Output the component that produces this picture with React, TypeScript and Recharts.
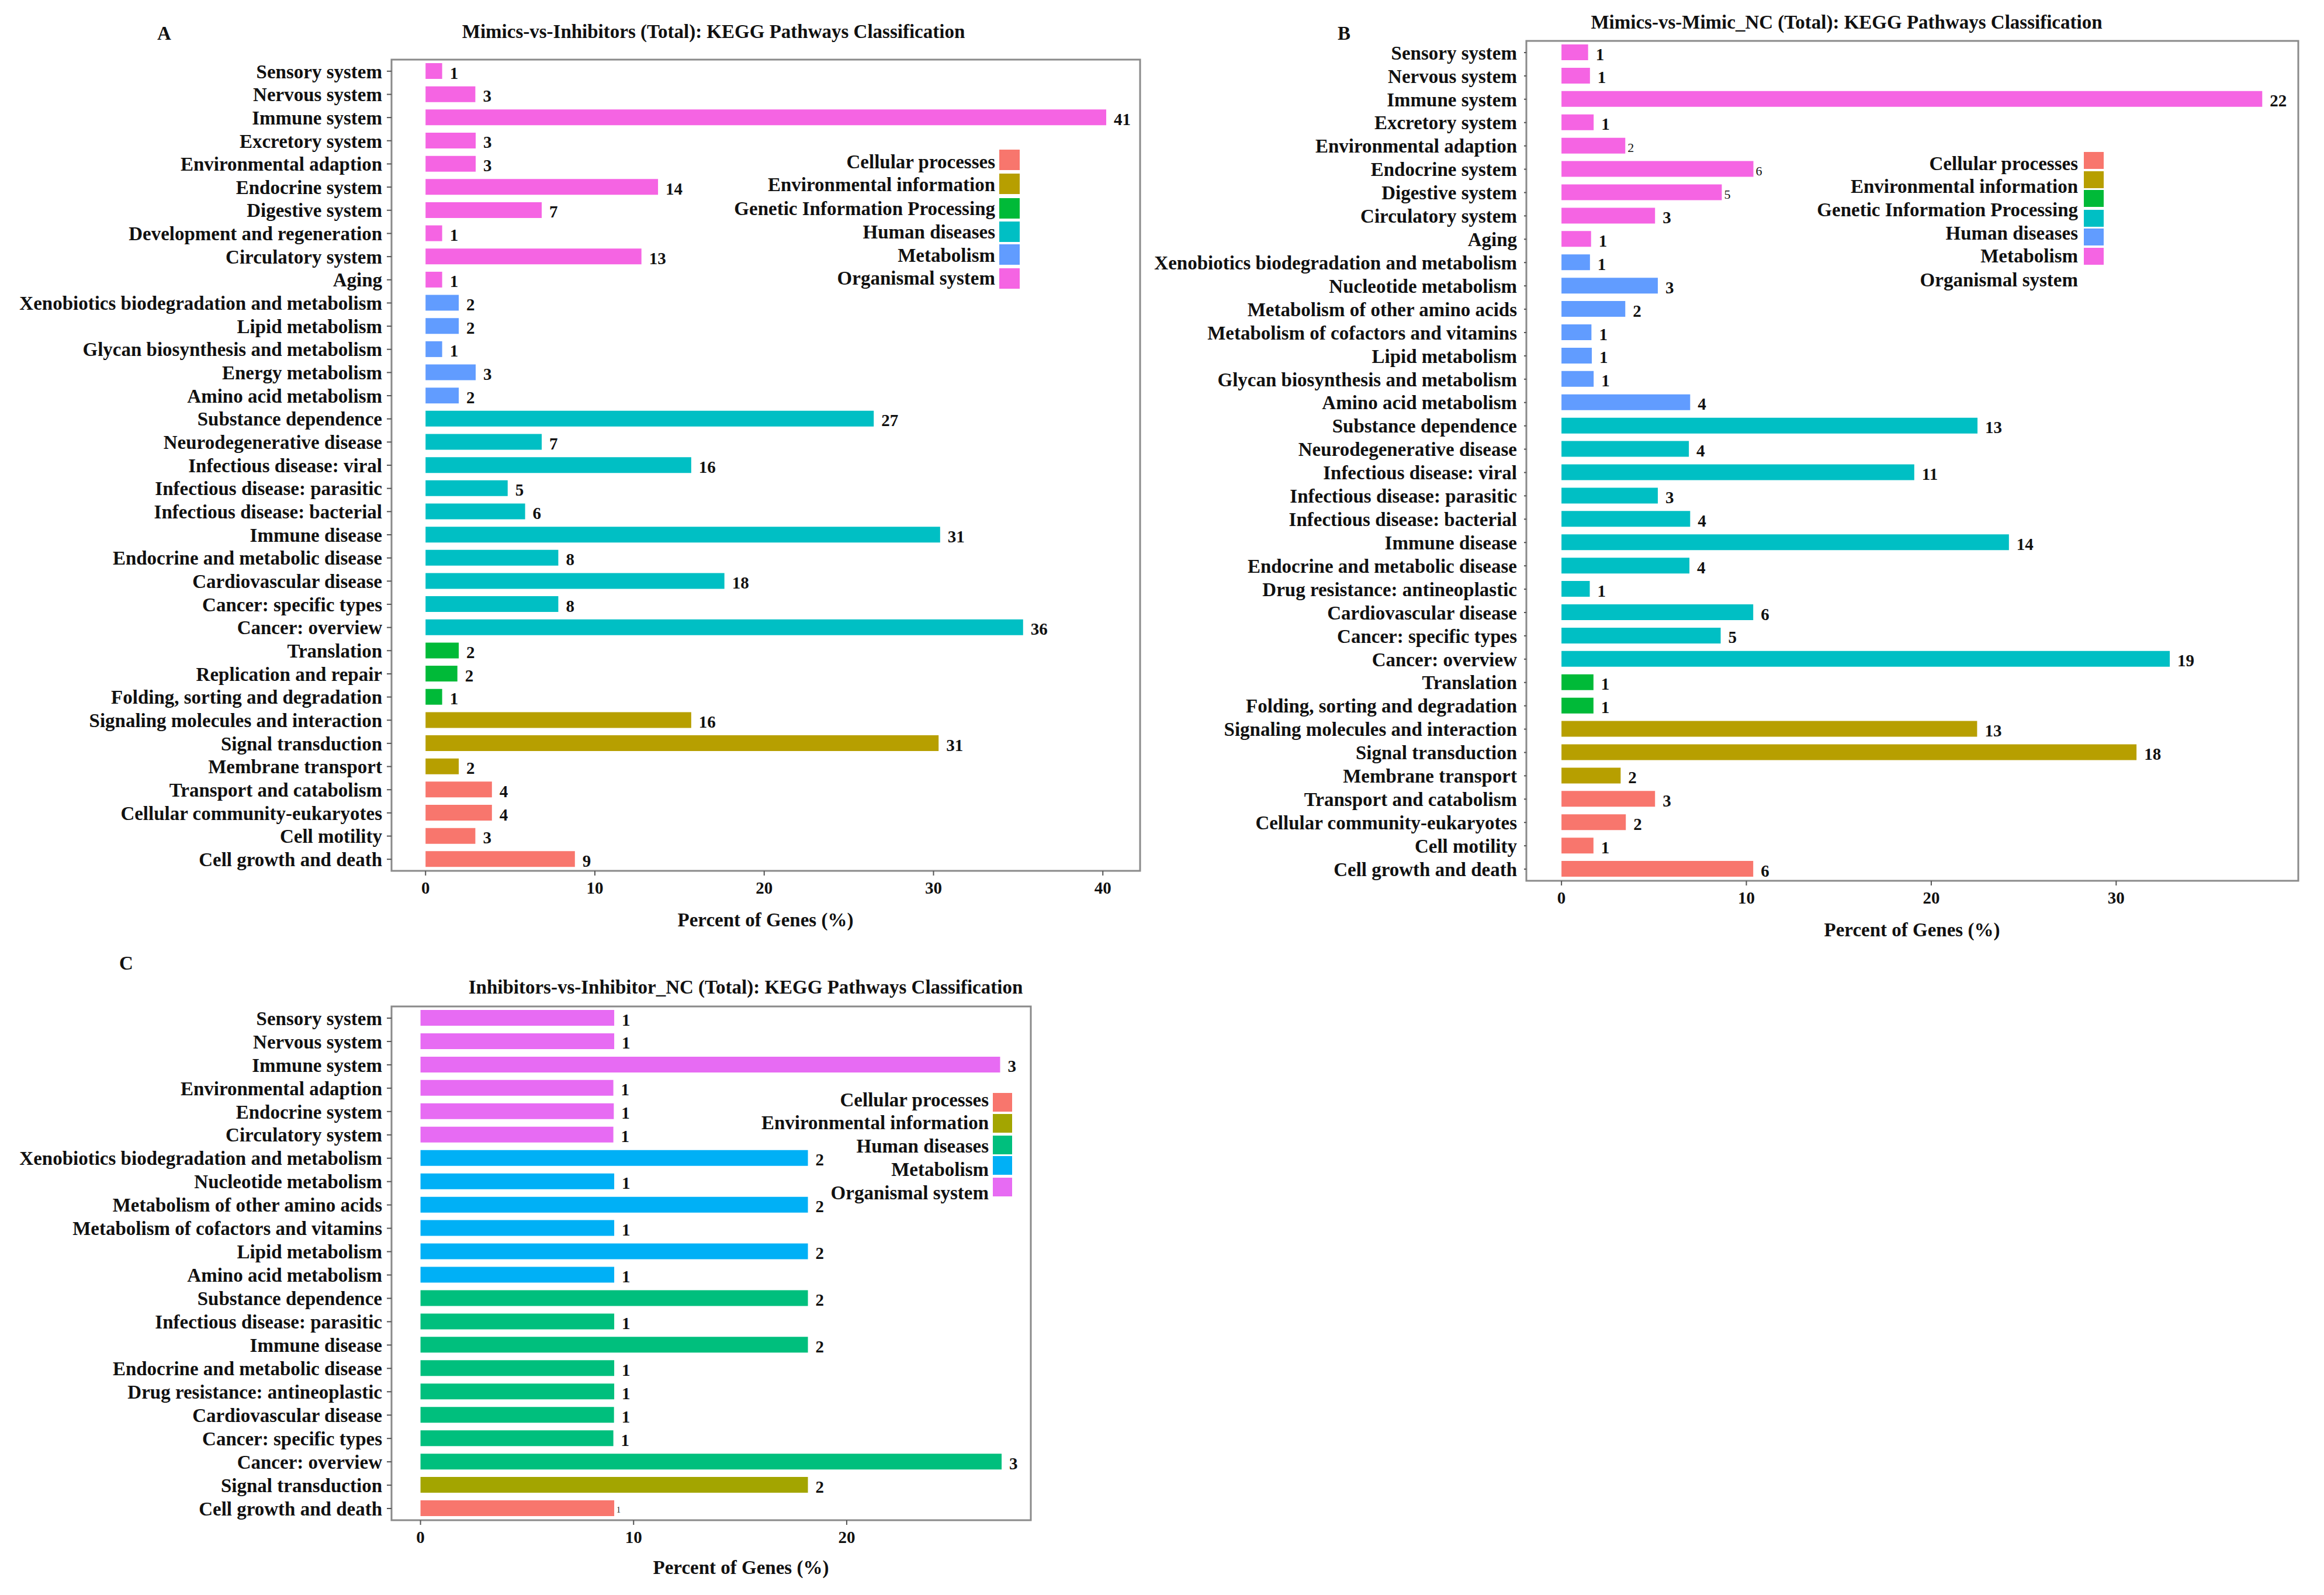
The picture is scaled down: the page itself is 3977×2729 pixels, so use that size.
import { BarChart, Bar, XAxis, YAxis, Cell, LabelList, ReferenceArea } from 'recharts';

const FONT = '"Liberation Serif", "Times New Roman", serif';

// group codes: CP Cellular processes, EI Environmental information, GIP Genetic Information Processing,
// HD Human diseases, MET Metabolism, OS Organismal system
const colors6: Record<string, string> = {
  CP: '#F8766D',
  EI: '#B79F00',
  GIP: '#00BA38',
  HD: '#00BFC4',
  MET: '#619CFF',
  OS: '#F564E3',
};
const colors5: Record<string, string> = {
  CP: '#F8766D',
  EI: '#A3A500',
  HD: '#00BF7D',
  MET: '#00B0F6',
  OS: '#E76BF3',
};

// ---- Panel A: Mimics-vs-Inhibitors ----
const aCategories = [
  'Sensory system', 'Nervous system', 'Immune system', 'Excretory system', 'Environmental adaption',
  'Endocrine system', 'Digestive system', 'Development and regeneration', 'Circulatory system', 'Aging',
  'Xenobiotics biodegradation and metabolism', 'Lipid metabolism', 'Glycan biosynthesis and metabolism',
  'Energy metabolism', 'Amino acid metabolism', 'Substance dependence', 'Neurodegenerative disease',
  'Infectious disease: viral', 'Infectious disease: parasitic', 'Infectious disease: bacterial',
  'Immune disease', 'Endocrine and metabolic disease', 'Cardiovascular disease', 'Cancer: specific types',
  'Cancer: overview', 'Translation', 'Replication and repair', 'Folding, sorting and degradation',
  'Signaling molecules and interaction', 'Signal transduction', 'Membrane transport',
  'Transport and catabolism', 'Cellular community-eukaryotes', 'Cell motility', 'Cell growth and death',
];
const aCounts = [1, 3, 41, 3, 3, 14, 7, 1, 13, 1, 2, 2, 1, 3, 2, 27, 7, 16, 5, 6, 31, 8, 18, 8, 36, 2, 2, 1, 16, 31, 2, 4, 4, 3, 9];
const aPercents = [
  0.98, 2.94, 40.2, 2.96, 2.96, 13.73, 6.86, 0.98, 12.75, 0.98,
  1.96, 1.96, 0.98, 2.96, 1.96, 26.47, 6.86, 15.69, 4.85, 5.88,
  30.39, 7.84, 17.65, 7.84, 35.29, 1.96, 1.88, 0.98, 15.69, 30.3,
  1.96, 3.92, 3.92, 2.94, 8.82,
];
const aGroups = [
  'OS', 'OS', 'OS', 'OS', 'OS', 'OS', 'OS', 'OS', 'OS', 'OS',
  'MET', 'MET', 'MET', 'MET', 'MET',
  'HD', 'HD', 'HD', 'HD', 'HD', 'HD', 'HD', 'HD', 'HD', 'HD',
  'GIP', 'GIP', 'GIP',
  'EI', 'EI', 'EI',
  'CP', 'CP', 'CP', 'CP',
];

// ---- Panel B: Mimics-vs-Mimic_NC ----
const bCategories = [
  'Sensory system', 'Nervous system', 'Immune system', 'Excretory system', 'Environmental adaption',
  'Endocrine system', 'Digestive system', 'Circulatory system', 'Aging',
  'Xenobiotics biodegradation and metabolism', 'Nucleotide metabolism', 'Metabolism of other amino acids',
  'Metabolism of cofactors and vitamins', 'Lipid metabolism', 'Glycan biosynthesis and metabolism',
  'Amino acid metabolism', 'Substance dependence', 'Neurodegenerative disease', 'Infectious disease: viral',
  'Infectious disease: parasitic', 'Infectious disease: bacterial', 'Immune disease',
  'Endocrine and metabolic disease', 'Drug resistance: antineoplastic', 'Cardiovascular disease',
  'Cancer: specific types', 'Cancer: overview', 'Translation', 'Folding, sorting and degradation',
  'Signaling molecules and interaction', 'Signal transduction', 'Membrane transport',
  'Transport and catabolism', 'Cellular community-eukaryotes', 'Cell motility', 'Cell growth and death',
];
const bCounts = [1, 1, 22, 1, 2, 6, 5, 3, 1, 1, 3, 2, 1, 1, 1, 4, 13, 4, 11, 3, 4, 14, 4, 1, 6, 5, 19, 1, 1, 13, 18, 2, 3, 2, 1, 6];
const bPercents = [
  1.44, 1.54, 37.9, 1.74, 3.45, 10.38, 8.67, 5.06, 1.6,
  1.54, 5.21, 3.45, 1.62, 1.64, 1.74, 6.96,
  22.5, 6.89, 19.08, 5.21, 6.96, 24.2, 6.92, 1.53, 10.37, 8.61, 32.9,
  1.73, 1.73,
  22.48, 31.1, 3.2,
  5.06, 3.48, 1.73, 10.37,
];
const bGroups = [
  'OS', 'OS', 'OS', 'OS', 'OS', 'OS', 'OS', 'OS', 'OS',
  'MET', 'MET', 'MET', 'MET', 'MET', 'MET', 'MET',
  'HD', 'HD', 'HD', 'HD', 'HD', 'HD', 'HD', 'HD', 'HD', 'HD', 'HD',
  'GIP', 'GIP',
  'EI', 'EI', 'EI',
  'CP', 'CP', 'CP', 'CP',
];

// ---- Panel C: Inhibitors-vs-Inhibitor_NC ----
const cCategories = [
  'Sensory system', 'Nervous system', 'Immune system', 'Environmental adaption', 'Endocrine system',
  'Circulatory system', 'Xenobiotics biodegradation and metabolism', 'Nucleotide metabolism',
  'Metabolism of other amino acids', 'Metabolism of cofactors and vitamins', 'Lipid metabolism',
  'Amino acid metabolism', 'Substance dependence', 'Infectious disease: parasitic', 'Immune disease',
  'Endocrine and metabolic disease', 'Drug resistance: antineoplastic', 'Cardiovascular disease',
  'Cancer: specific types', 'Cancer: overview', 'Signal transduction', 'Cell growth and death',
];
const cCounts = [1, 1, 3, 1, 1, 1, 2, 1, 2, 1, 2, 1, 2, 1, 2, 1, 1, 1, 1, 3, 2, 1];
const cPercents = [
  9.09, 9.09, 27.2, 9.05, 9.07, 9.05, 18.18, 9.09, 18.18, 9.09, 18.18,
  9.09, 18.18, 9.09, 18.18, 9.09, 9.09, 9.08, 9.05, 27.27, 18.18, 9.09,
];
const cGroups = [
  'OS', 'OS', 'OS', 'OS', 'OS', 'OS',
  'MET', 'MET', 'MET', 'MET', 'MET', 'MET',
  'HD', 'HD', 'HD', 'HD', 'HD', 'HD', 'HD', 'HD',
  'EI', 'CP',
];

const legend6 = ['Cellular processes', 'Environmental information', 'Genetic Information Processing', 'Human diseases', 'Metabolism', 'Organismal system'];
const legend6Keys = ['CP', 'EI', 'GIP', 'HD', 'MET', 'OS'];
const legend5 = ['Cellular processes', 'Environmental information', 'Human diseases', 'Metabolism', 'Organismal system'];
const legend5Keys = ['CP', 'EI', 'HD', 'MET', 'OS'];

type PanelProps = {
  left: number;
  top: number;
  width: number;
  height: number;
  margin: { top: number; right: number; bottom: number; left: number };
  yAxisWidth: number;
  yTickSize: number;
  yTickMargin: number;
  categories: string[];
  counts: number[];
  percents: number[];
  groups: string[];
  colors: Record<string, string>;
  domain: [number, number];
  ticks: number[];
  smallLabels?: Record<number, number>;
};

function Panel(p: PanelProps) {
  const data = p.categories.map((name, i) => ({
    name,
    pct: p.percents[i],
    count: p.counts[i],
    group: p.groups[i],
  }));

  const renderCount = (props: any) => {
    const { x, y, width, height, value, index } = props;
    const small = p.smallLabels ? p.smallLabels[index] : undefined;
    return (
      <text
        x={Number(x) + Number(width) + (small ? 4 : 13)}
        y={Number(y) + Number(height) / 2 + 3}
        dominantBaseline="central"
        fontFamily={FONT}
        fontSize={small ?? 29}
        fontWeight={small ? 'normal' : 'bold'}
        fill="#111"
      >
        {value}
      </text>
    );
  };

  return (
    <div style={{ position: 'absolute', left: p.left, top: p.top }}>
      <BarChart
        layout="vertical"
        width={p.width}
        height={p.height}
        data={data}
        margin={p.margin}
      >
        <XAxis
          type="number"
          dataKey="pct"
          domain={p.domain}
          ticks={p.ticks}
          allowDataOverflow
          height={60}
          axisLine={false}
          tickSize={8}
          tickMargin={10}
          tickLine={{ stroke: '#555', strokeWidth: 2 }}
          tick={{ fill: '#111', fontSize: 29, fontWeight: 'bold', fontFamily: FONT }}
        />
        <YAxis
          type="category"
          dataKey="name"
          width={p.yAxisWidth}
          interval={0}
          axisLine={false}
          tickSize={p.yTickSize}
          tickMargin={p.yTickMargin}
          tickLine={{ stroke: '#555', strokeWidth: 2 }}
          tick={{ fill: '#111', fontSize: 33, fontWeight: 'bold', fontFamily: FONT }}
        />
        <Bar dataKey="pct" barSize={27} isAnimationActive={false}>
          {data.map((d, i) => (
            <Cell key={i} fill={p.colors[d.group]} />
          ))}
          <LabelList dataKey="count" content={renderCount} />
        </Bar>
        <ReferenceArea
          x1={p.domain[0]}
          x2={p.domain[1]}
          fill="none"
          stroke="#8a8a8a"
          strokeWidth={3}
          ifOverflow="visible"
        />
      </BarChart>
    </div>
  );
}

const textStyle = {
  position: 'absolute' as const,
  fontFamily: FONT,
  fontWeight: 'bold' as const,
  fontSize: 33,
  color: '#111',
  whiteSpace: 'nowrap' as const,
  lineHeight: 1,
};

function Label({ x, y, text, size = 33 }: { x: number; y: number; text: string; size?: number }) {
  return (
    <div style={{ ...textStyle, fontSize: size, left: x, top: y, transform: 'translate(-50%, -50%)' }}>
      {text}
    </div>
  );
}

function Legend({
  labels, keys, colors, rightEdge, labelYs, swatchX, swatchW, swatchTops, swatchH,
}: {
  labels: string[]; keys: string[]; colors: Record<string, string>; rightEdge: number;
  labelYs: number[]; swatchX: number; swatchW: number; swatchTops: number[]; swatchH: number;
}) {
  return (
    <>
      {labels.map((l, i) => (
        <div
          key={l}
          style={{ ...textStyle, left: rightEdge, top: labelYs[i], transform: 'translate(-100%, -50%)' }}
        >
          {l}
        </div>
      ))}
      {keys.map((k, i) => (
        <div
          key={k}
          style={{
            position: 'absolute',
            left: swatchX,
            top: swatchTops[i],
            width: swatchW,
            height: swatchH,
            background: colors[k],
          }}
        />
      ))}
    </>
  );
}

export default function App() {
  return (
    <div style={{ position: 'absolute', left: 0, top: 0, width: 3977, height: 2729, background: '#fff', overflow: 'hidden' }}>
      {/* Panel A */}
      <Label x={281} y={57} text="A" />
      <Label x={1221} y={54} text="Mimics-vs-Inhibitors (Total): KEGG Pathways Classification" />
      <Panel
        left={0}
        top={0}
        width={1960}
        height={1560}
        margin={{ top: 102, right: 9, bottom: 10, left: 0 }}
        yAxisWidth={670}
        yTickSize={8}
        yTickMargin={8}
        categories={aCategories}
        counts={aCounts}
        percents={aPercents}
        groups={aGroups}
        colors={colors6}
        domain={[-2.01, 42.2]}
        ticks={[0, 10, 20, 30, 40]}
      />
      <Label x={1310} y={1574} text="Percent of Genes (%)" />
      <Legend
        labels={legend6}
        keys={legend6Keys}
        colors={colors6}
        rightEdge={1703}
        labelYs={[277, 316, 357, 397, 437, 476]}
        swatchX={1710}
        swatchW={35}
        swatchTops={[256, 297, 339, 379, 418, 459]}
        swatchH={35}
      />

      {/* Panel B */}
      <Label x={2300} y={57} text="B" />
      <Label x={3160} y={38} text="Mimics-vs-Mimic_NC (Total): KEGG Pathways Classification" />
      <Panel
        left={1940}
        top={0}
        width={2037}
        height={1577}
        margin={{ top: 70, right: 44, bottom: 10, left: 0 }}
        yAxisWidth={672}
        yTickSize={4}
        yTickMargin={12}
        categories={bCategories}
        counts={bCounts}
        percents={bPercents}
        groups={bGroups}
        colors={colors6}
        domain={[-1.9, 39.85]}
        ticks={[0, 10, 20, 30]}
        smallLabels={{ 4: 22, 5: 22, 6: 22 }}
      />
      <Label x={3272} y={1591} text="Percent of Genes (%)" />
      <Legend
        labels={legend6}
        keys={legend6Keys}
        colors={colors6}
        rightEdge={3556}
        labelYs={[280, 319, 359, 399, 438, 479]}
        swatchX={3566}
        swatchW={34}
        swatchTops={[260, 293, 325, 359, 391, 424]}
        swatchH={29}
      />

      {/* Panel C */}
      <Label x={216} y={1648} text="C" />
      <Label x={1276} y={1689} text="Inhibitors-vs-Inhibitor_NC (Total): KEGG Pathways Classification" />
      <Panel
        left={0}
        top={1700}
        width={1774}
        height={971}
        margin={{ top: 22, right: 10, bottom: 10, left: 0 }}
        yAxisWidth={670}
        yTickSize={8}
        yTickMargin={8}
        categories={cCategories}
        counts={cCounts}
        percents={cPercents}
        groups={cGroups}
        colors={colors5}
        domain={[-1.36, 28.64]}
        ticks={[0, 10, 20]}
        smallLabels={{ 21: 14 }}
      />
      <Label x={1268} y={2682} text="Percent of Genes (%)" />
      <Legend
        labels={legend5}
        keys={legend5Keys}
        colors={colors5}
        rightEdge={1692}
        labelYs={[1882, 1921, 1961, 2001, 2041]}
        swatchX={1699}
        swatchW={33}
        swatchTops={[1870, 1906, 1943, 1978, 2015]}
        swatchH={32}
      />
    </div>
  );
}
